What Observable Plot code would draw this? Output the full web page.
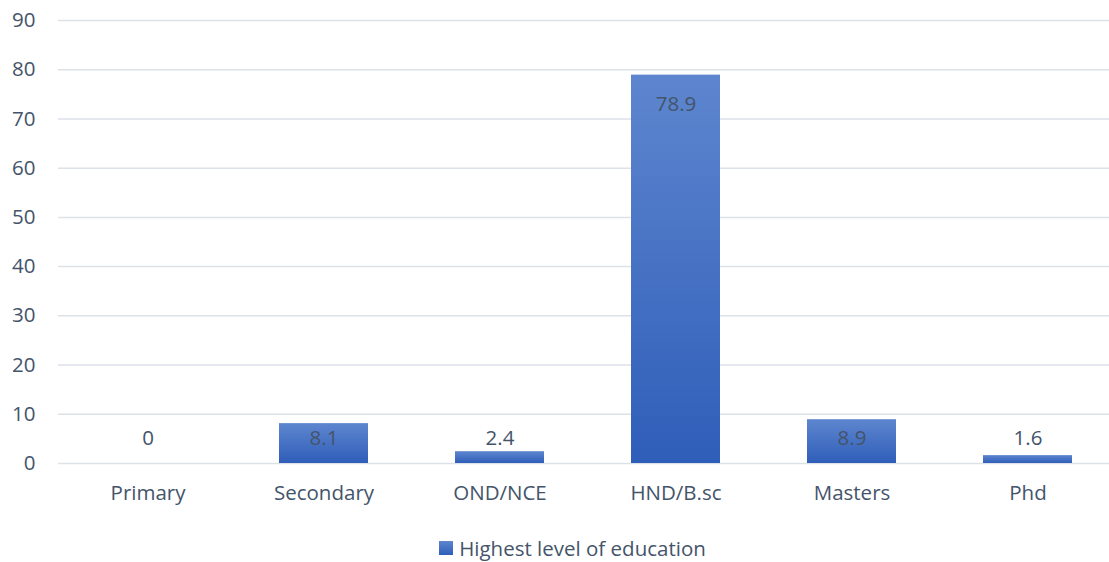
<!DOCTYPE html>
<html>
<head>
<meta charset="utf-8">
<script src="https://cdn.jsdelivr.net/npm/d3@7"></script>
<script src="https://cdn.jsdelivr.net/npm/@observablehq/plot@0.6"></script>
<style>
  html, body { margin: 0; padding: 0; background: #fff; overflow: hidden; }
  #chart svg { overflow: visible; display: block; }
  .legend { display: flex; justify-content: center; align-items: center; margin-top: 24px;
    font-family: "Open Sans", sans-serif; font-size: 20.5px; color: #44546a; padding-left: 36px; }
  .swatch { width: 14px; height: 14px; margin-right: 6px;
    background: linear-gradient(#5e86cf, #2f5eb9); }
</style>
</head>
<body>
<div id="chart"></div>
<div class="legend"><span class="swatch"></span><span>Highest level of education</span></div>
<script>
const categories = ["Primary", "Secondary", "OND/NCE", "HND/B.sc", "Masters", "Phd"];
const values = [0, 8.1, 2.4, 78.9, 8.9, 1.6];
const yTicks = [0, 10, 20, 30, 40, 50, 60, 70, 80, 90];
const seriesName = "Highest level of education";

const data = categories.map((c, i) => ({category: c, value: values[i]}));
const textColor = "#44546a";
const fs = 20.5;

const chart = Plot.plot({
  width: 1109,
  height: 510,
  marginTop: 20,
  marginBottom: 47,
  marginLeft: 58,
  marginRight: -8,
  style: {fontFamily: "Open Sans, sans-serif", fontSize: fs + "px", color: textColor, background: "white"},
  x: {domain: categories, paddingInner: 0.495, paddingOuter: 0.2475, label: null},
  y: {domain: [0, 90], ticks: yTicks, label: null},
  marks: [
    Plot.ruleY(yTicks, {stroke: "#dde1e8", strokeWidth: 1.5}),
    () => {
      const svg = d3.create("svg:defs");
      const g = svg.append("linearGradient").attr("id", "barGrad").attr("x1", 0).attr("y1", 0).attr("x2", 0).attr("y2", 1);
      g.append("stop").attr("offset", "0%").attr("stop-color", "#5e86cf");
      g.append("stop").attr("offset", "100%").attr("stop-color", "#2f5eb9");
      return svg.node();
    },
    Plot.barY(data.filter(d => d.value > 0), {x: "category", y: "value", fill: "url(#barGrad)"}),
    Plot.text(data.filter(d => d.value >= 10), {x: "category", y: "value", text: d => String(d.value), dy: 29, fill: textColor, fontSize: fs}),
    Plot.text(data.filter(d => d.value < 10), {x: "category", y: 0, text: d => String(d.value), dy: -25, fill: textColor, fontSize: fs}),
    Plot.axisY({ticks: yTicks, tickSize: 0, tickPadding: 23, fill: textColor, fontSize: fs}),
    Plot.axisX({tickSize: 0, tickPadding: 22, fill: textColor, fontSize: fs})
  ]
});
document.getElementById("chart").appendChild(chart);
</script>
</body>
</html>
